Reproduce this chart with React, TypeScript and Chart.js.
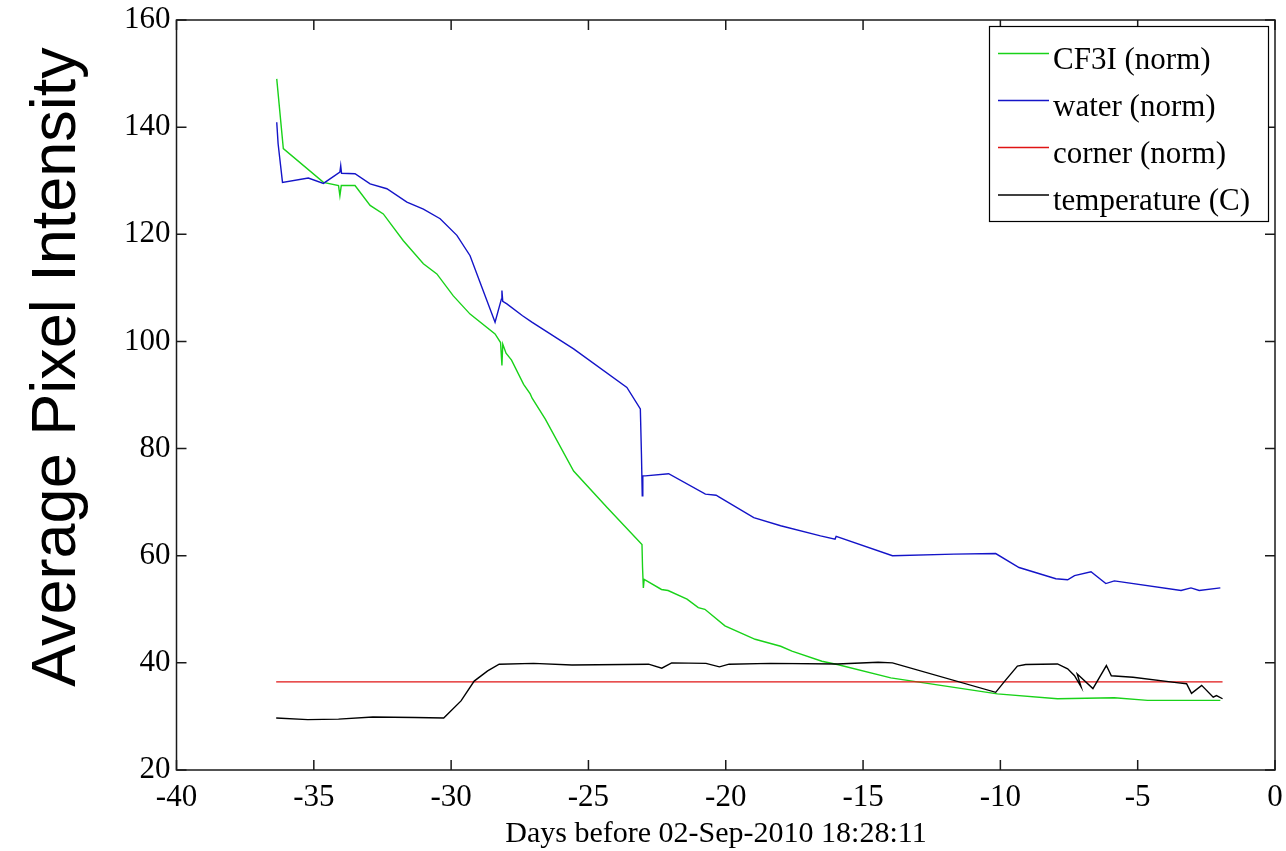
import React, { useEffect, useRef } from "react";
import { Chart, registerables } from "chart.js";

Chart.register(...registerables);

// ---- Data (days before 02-Sep-2010 18:28:11) ----
const cf3iDays = [-36.35, -36.11, -34.65, -34.1, -34.05, -34.0, -33.5, -32.95, -32.47, -31.74, -31.01, -30.52, -29.92, -29.31, -28.4, -28.2, -28.15, -28.12, -28.0, -27.8, -27.36, -27.12, -27.05, -26.57, -25.54, -24.32, -23.05, -23.03, -23.0, -22.97, -22.34, -22.1, -21.41, -21.0, -20.76, -20.03, -18.93, -18.0, -17.59, -16.5, -15.94, -13.99, -11.93, -10.11, -7.92, -5.85, -4.64, -1.99];
const cf3iValues = [149.0, 136.0, 129.7, 129.1, 127.2, 129.1, 129.1, 125.4, 123.8, 118.8, 114.5, 112.6, 108.5, 105.1, 101.4, 99.8, 95.5, 99.5, 97.8, 96.5, 92.0, 90.2, 89.4, 85.5, 75.8, 69.0, 62.1, 57.8, 54.0, 55.6, 53.7, 53.5, 51.9, 50.3, 50.0, 46.9, 44.4, 43.1, 42.2, 40.3, 39.7, 37.2, 35.6, 34.2, 33.3, 33.5, 33.0, 33.0];

const waterDays = [-36.35, -36.3, -36.14, -35.2, -34.65, -34.05, -34.02, -33.99, -33.5, -32.95, -32.34, -31.61, -31.01, -30.4, -29.79, -29.31, -28.88, -28.4, -28.17, -28.15, -28.12, -27.97, -27.4, -27.06, -25.54, -23.6, -23.11, -23.07, -23.04, -23.02, -22.93, -22.08, -20.74, -20.35, -20.25, -18.98, -18.0, -16.55, -16.02, -15.98, -13.93, -11.69, -10.17, -9.32, -7.98, -7.55, -7.3, -6.7, -6.16, -5.85, -3.42, -3.06, -2.76, -1.99];
const waterValues = [140.9, 136.9, 129.7, 130.5, 129.5, 131.6, 132.8, 131.4, 131.3, 129.4, 128.5, 126.0, 124.7, 122.9, 119.8, 116.0, 110.1, 103.6, 107.9, 109.5, 107.5, 107.0, 104.8, 103.6, 98.6, 91.4, 87.4, 79.0, 71.2, 74.9, 74.9, 75.3, 71.5, 71.3, 71.0, 67.1, 65.6, 63.7, 63.1, 63.6, 60.0, 60.3, 60.4, 57.8, 55.7, 55.5, 56.3, 57.0, 54.8, 55.3, 53.5, 54.0, 53.5, 54.0];

const cornerDays = [-36.37, -1.91];
const cornerValues = [36.45, 36.45];

const tempDays = [-36.37, -35.22, -34.1, -32.85, -31.32, -30.27, -29.64, -29.16, -28.67, -28.25, -27.0, -25.6, -22.81, -22.33, -21.97, -20.72, -20.23, -19.88, -18.37, -15.94, -14.45, -13.93, -10.17, -9.87, -9.38, -9.08, -7.92, -7.55, -7.3, -7.06, -7.2, -6.63, -6.14, -5.96, -5.17, -3.59, -3.22, -3.04, -2.67, -2.25, -2.13, -1.91];
const tempValues = [29.7, 29.4, 29.5, 29.9, 29.8, 29.7, 32.9, 36.6, 38.5, 39.75, 39.9, 39.6, 39.75, 39.0, 40.0, 39.9, 39.25, 39.75, 39.9, 39.8, 40.1, 40.0, 34.5, 36.4, 39.4, 39.7, 39.8, 38.9, 37.6, 35.5, 37.9, 35.2, 39.5, 37.6, 37.3, 36.3, 36.1, 34.3, 35.8, 33.6, 33.9, 33.3];

const seriesLabels = ["CF3I (norm)", "water (norm)", "corner (norm)", "temperature (C)"];
const xTickValues = [-40, -35, -30, -25, -20, -15, -10, -5, 0];
const yTickValues = [20, 40, 60, 80, 100, 120, 140, 160];
const xTitle = "Days before 02-Sep-2010 18:28:11";
const yTitle = "Average Pixel Intensity";

const COLORS = ["#19d219", "#1414c8", "#e01414", "#000000"];
const SERIF = '"Liberation Serif", "Times New Roman", serif';
const SANS = '"Liberation Sans", Arial, sans-serif';

const zip = (xs: number[], ys: number[]) => xs.map((x, i) => ({ x, y: ys[i] }));

const framePlugin = {
  id: "matlabFrame",
  afterDatasetsDraw(chart: any) {
    const ctx = chart.ctx as CanvasRenderingContext2D;
    const { left, right, top, bottom } = chart.chartArea;
    const xs = chart.scales.x;
    const ys = chart.scales.y;
    ctx.save();
    ctx.strokeStyle = "#1a1a1a";
    ctx.lineWidth = 1.5;
    ctx.strokeRect(left, top, right - left, bottom - top);
    const tl = 10;
    ctx.beginPath();
    xTickValues.forEach((v) => {
      const px = xs.getPixelForValue(v);
      ctx.moveTo(px, bottom);
      ctx.lineTo(px, bottom - tl);
      ctx.moveTo(px, top);
      ctx.lineTo(px, top + tl);
    });
    yTickValues.forEach((v) => {
      const py = ys.getPixelForValue(v);
      ctx.moveTo(left, py);
      ctx.lineTo(left + tl, py);
      ctx.moveTo(right, py);
      ctx.lineTo(right - tl, py);
    });
    ctx.stroke();

    // Legend box
    const lx0 = 989.5, ly0 = 26.5, lx1 = 1268.5, ly1 = 221.5;
    ctx.fillStyle = "#ffffff";
    ctx.fillRect(lx0, ly0, lx1 - lx0, ly1 - ly0);
    ctx.lineWidth = 1.2;
    ctx.strokeStyle = "#000";
    ctx.strokeRect(lx0, ly0, lx1 - lx0, ly1 - ly0);
    const rowY = [53.5, 100.5, 147.5, 195];
    ctx.font = `31px ${SERIF}`;
    ctx.textBaseline = "middle";
    ctx.textAlign = "left";
    chart.data.datasets.forEach((ds: any, i: number) => {
      ctx.strokeStyle = ds.borderColor;
      ctx.lineWidth = 1.4;
      ctx.beginPath();
      ctx.moveTo(998, rowY[i]);
      ctx.lineTo(1049, rowY[i]);
      ctx.stroke();
      ctx.fillStyle = "#000";
      ctx.fillText(ds.label, 1053, rowY[i] + 7);
    });

    // Axis titles
    ctx.fillStyle = "#000";
    ctx.font = `30px ${SERIF}`;
    ctx.textAlign = "center";
    ctx.textBaseline = "alphabetic";
    ctx.fillText(xTitle, 716, 842);

    ctx.save();
    ctx.translate(75, 367);
    ctx.rotate(-Math.PI / 2);
    ctx.font = `63px ${SANS}`;
    ctx.textAlign = "center";
    ctx.textBaseline = "alphabetic";
    ctx.fillText(yTitle, 0, 0);
    ctx.restore();
    ctx.restore();
  },
};

export default function App() {
  const ref = useRef<HTMLCanvasElement>(null);
  useEffect(() => {
    const mk = (label: string, xs: number[], ys: number[], color: string, order: number) => ({
      label,
      data: zip(xs, ys),
      borderColor: color,
      backgroundColor: color,
      borderWidth: 1.4,
      showLine: true,
      pointRadius: 0,
      pointHoverRadius: 0,
      tension: 0,
      order,
    });
    const chart = new Chart(ref.current!, {
      type: "scatter",
      data: {
        datasets: [
          mk(seriesLabels[0], cf3iDays, cf3iValues, COLORS[0], 4),
          mk(seriesLabels[1], waterDays, waterValues, COLORS[1], 3),
          mk(seriesLabels[2], cornerDays, cornerValues, COLORS[2], 2),
          mk(seriesLabels[3], tempDays, tempValues, COLORS[3], 1),
        ],
      },
      options: {
        animation: false,
        responsive: false,
        layout: { padding: { top: 20, right: 11, left: 0, bottom: 0 } },
        plugins: { legend: { display: false }, tooltip: { enabled: false }, title: { display: false } },
        scales: {
          x: {
            type: "linear",
            min: -40,
            max: 0,
            afterFit: (s: any) => {
              s.height = 81;
              s.paddingLeft = 0;
              s.paddingRight = 0;
              s.paddingTop = 0;
              s.paddingBottom = 0;
            },
            afterBuildTicks: (s: any) => {
              s.ticks = xTickValues.map((v) => ({ value: v }));
            },
            grid: { display: false, drawTicks: false },
            border: { display: false },
            ticks: {
              color: "#000",
              font: { family: SERIF, size: 31 },
              padding: 9,
              maxRotation: 0,
              autoSkip: false,
              callback: (v: any) => String(v),
            },
          },
          y: {
            type: "linear",
            min: 20,
            max: 160,
            afterFit: (s: any) => {
              s.width = 176.5;
              s.paddingLeft = 0;
              s.paddingRight = 0;
              s.paddingTop = 0;
              s.paddingBottom = 0;
            },
            afterBuildTicks: (s: any) => {
              s.ticks = yTickValues.map((v) => ({ value: v }));
            },
            grid: { display: false, drawTicks: false },
            border: { display: false },
            ticks: {
              color: "#000",
              font: { family: SERIF, size: 31 },
              padding: 6,
              autoSkip: false,
              callback: (v: any) => String(v),
            },
          },
        },
      },
      plugins: [framePlugin],
    } as any);
    return () => chart.destroy();
  }, []);
  return (
    <div style={{ position: "absolute", left: 0, top: 0, width: 1286, height: 851, background: "#fff" }}>
      <canvas ref={ref} width={1286} height={851} style={{ display: "block" }} />
    </div>
  );
}
